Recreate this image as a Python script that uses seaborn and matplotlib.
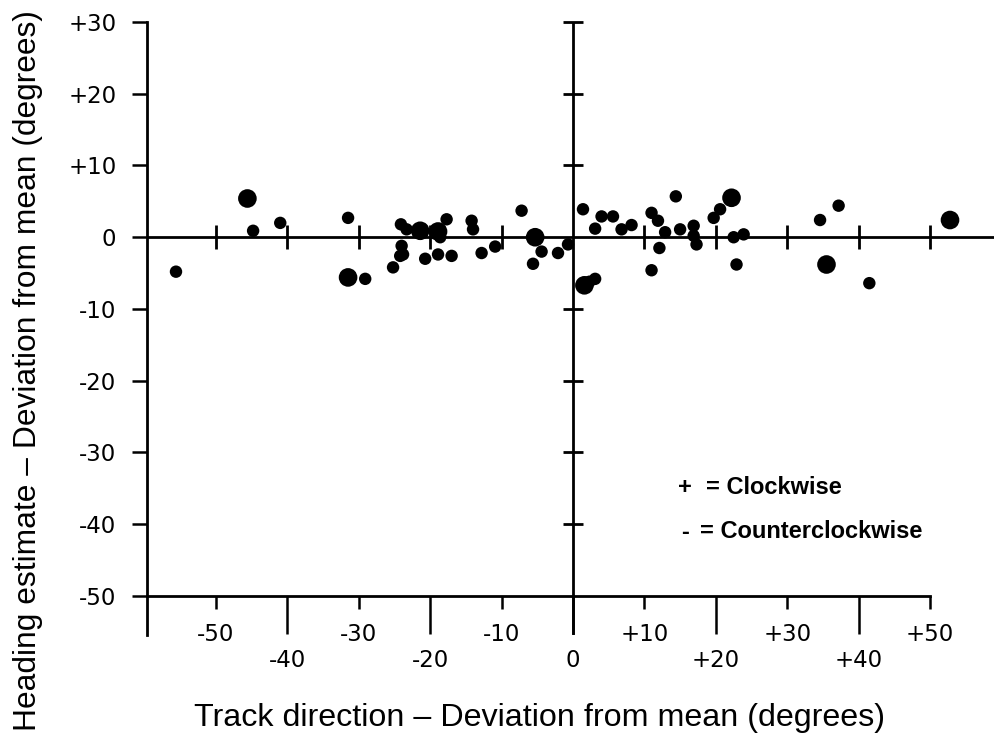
import numpy as np
import pandas as pd
import seaborn as sns
import matplotlib.pyplot as plt

sns.set_style("white")
plt.rcParams["font.family"] = ["DejaVu Sans"]
plt.rcParams["text.color"] = "black"
plt.rcParams["xtick.color"] = "black"
plt.rcParams["ytick.color"] = "black"
plt.rcParams["axes.edgecolor"] = "black"

# track direction deviation (x), heading estimate deviation (y), dot size
track_dev = [
    -55.6, -45.6, -44.8, -41.0, -31.5, -31.5, -29.1, -24.1, -23.3, -24.0,
    -23.8, -24.2, -25.2, -21.4, -20.7, -18.9, -18.6, -17.7, -18.9, -17.0,
    -14.2, -14.0, -12.8, -10.9, -7.2, -5.3, -4.4, -5.6, -2.1, -0.7,
    1.4, 3.1, 4.0, 5.6, 6.8, 8.2, 1.6, 2.3, 3.1, 11.0,
    11.9, 12.9, 12.1, 11.0, 14.4, 15.0, 16.9, 16.9, 17.3, 19.7,
    20.6, 22.2, 22.5, 23.9, 22.9, 34.6, 37.2, 35.5, 41.5, 52.8,
]
heading_dev = [
    -4.8, 5.4, 0.9, 2.0, 2.7, -5.6, -5.8, 1.8, 1.1, -1.2,
    -2.4, -2.6, -4.2, 0.9, -3.0, 0.8, 0.0, 2.5, -2.4, -2.6,
    2.3, 1.1, -2.2, -1.3, 3.7, 0.0, -2.0, -3.7, -2.2, -1.0,
    3.9, 1.2, 2.9, 2.9, 1.1, 1.7, -6.7, -6.2, -5.8, 3.4,
    2.3, 0.7, -1.5, -4.6, 5.7, 1.1, 1.6, 0.2, -1.0, 2.7,
    3.9, 5.5, 0.0, 0.4, -3.8, 2.4, 4.4, -3.8, -6.4, 2.4,
]
dot_size = [
    "s", "B", "s", "s", "s", "B", "s", "s", "s", "s",
    "s", "s", "s", "B", "s", "B", "s", "s", "s", "s",
    "s", "s", "s", "s", "s", "B", "s", "s", "s", "s",
    "s", "s", "s", "s", "s", "s", "B", "s", "s", "s",
    "s", "s", "s", "s", "s", "s", "s", "s", "s", "s",
    "s", "B", "s", "s", "s", "s", "s", "B", "s", "B",
]

x_short = [-50, -30, -10, 10, 30, 50]
x_long = [-40, -20, 0, 20, 40]
x_short_labels = ["-50", "-30", "-10", "+10", "+30", "+50"]
x_long_labels = ["-40", "-20", "0", "+20", "+40"]
y_ticks = [-50, -40, -30, -20, -10, 0, 10, 20, 30]
y_labels = ["-50", "-40", "-30", "-20", "-10", "0", "+10", "+20", "+30"]
inner_x_ticks = [-50, -40, -30, -20, -10, 10, 20, 30, 40, 50]
inner_y_ticks = [-40, -30, -20, -10, 10, 20, 30]

df = pd.DataFrame({"track": track_dev, "heading": heading_dev, "size": dot_size})

fig = plt.figure(figsize=(9.95, 7.42), dpi=100)
ax = fig.add_axes([147 / 995, 107 / 742, 1 - 147 / 995, 613 / 742])
ax.set_xlim(-59.66, 59.1)
ax.set_ylim(-55.44, 30)

# central cross with its own crossing ticks
ax.axhline(0, color="black", lw=2, zorder=1)
ax.axvline(0, color="black", lw=2, zorder=1)
ax.plot(inner_x_ticks, np.zeros(len(inner_x_ticks)), ls="none", marker="|",
        ms=17, mew=2, color="black", clip_on=False)
ax.plot(np.zeros(len(inner_y_ticks)), inner_y_ticks, ls="none", marker="_",
        ms=15, mew=2, color="black", clip_on=False)

sns.scatterplot(data=df, x="track", y="heading", size="size",
                sizes={"s": 80, "B": 180}, color="black", linewidth=0,
                legend=False, ax=ax, zorder=3, clip_on=False)

for side in ["top", "right"]:
    ax.spines[side].set_visible(False)
ax.spines["left"].set_linewidth(2)
ax.spines["bottom"].set_linewidth(2)
ax.spines["bottom"].set_position(("data", -50))
ax.spines["bottom"].set_bounds(-59.66, 50)

ax.set_yticks(y_ticks, y_labels)
ax.set_xticks(x_short, x_short_labels)
ax.set_xticks(x_long, x_long_labels, minor=True)
ax.tick_params(axis="y", direction="out", length=11, width=1.8, pad=11,
               labelsize=16.5, left=True)
ax.tick_params(axis="x", which="major", direction="out", length=9.5, width=1.8,
               pad=10, labelsize=16.5, bottom=True)
ax.tick_params(axis="x", which="minor", direction="out", length=27, width=1.8,
               pad=11, labelsize=16.5, bottom=True)
ax.set_xlabel("")
ax.set_ylabel("")

label_font = ["Liberation Sans", "DejaVu Sans"]
fig.text(540 / 995, 1 - 718 / 742, "Track direction \u2013 Deviation from mean (degrees)",
         ha="center", va="center", fontsize=23.2, family=label_font)
fig.text(28 / 995, 1 - 371 / 742, "Heading estimate \u2013 Deviation from mean (degrees)",
         ha="center", va="center", rotation=90, fontsize=22.9, family=label_font)

fig.text(678 / 995, 1 - 487 / 742, "+", ha="left", va="center", fontsize=17,
         fontweight="bold", family=label_font)
fig.text(706 / 995, 1 - 487 / 742, "= Clockwise", ha="left", va="center", fontsize=17,
         fontweight="bold", family=label_font)
fig.text(681 / 995, 1 - 532 / 742, "-", ha="left", va="center", fontsize=17,
         fontweight="bold", family=label_font)
fig.text(700 / 995, 1 - 532 / 742, "= Counterclockwise", ha="left", va="center",
         fontsize=17, fontweight="bold", family=label_font)

plt.savefig("out.png", dpi=100)
